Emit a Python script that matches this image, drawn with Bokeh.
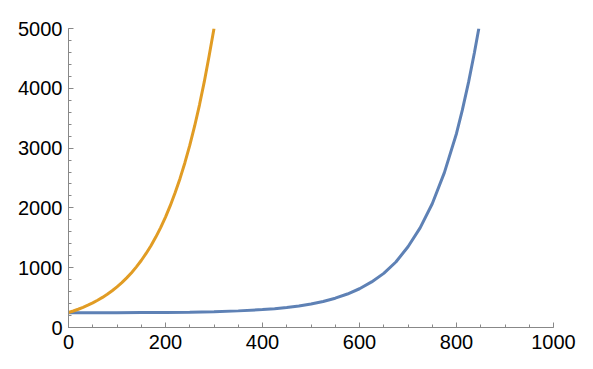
from bokeh.plotting import figure
from bokeh.embed import file_html
from bokeh.resources import INLINE
from bokeh.models import Range1d, FixedTicker

orange_x = [0, 10, 20, 30, 40, 50, 60, 70, 80, 90, 100, 110, 120, 130, 140, 150, 160, 170, 180, 190,
            200, 210, 220, 230, 240, 250, 260, 270, 280, 290, 300]
orange_y = [250, 276, 305, 337, 373, 412, 456, 503, 556, 615, 680, 751, 830, 917, 1014, 1120,
            1238, 1368, 1512, 1671, 1847, 2041, 2256, 2493, 2756, 3045, 3366, 3720, 4111, 4543, 5000]

blue_x = [0, 50, 100, 150, 200, 250, 300, 350, 400, 425, 450, 475, 500, 525, 550, 575, 600, 625,
          650, 675, 700, 725, 750, 775, 800, 812, 825, 837, 846]
blue_y = [245, 246, 248, 250, 252, 257, 265, 278, 300, 315, 335, 360, 393, 436, 490, 560, 648,
          762, 905, 1095, 1350, 1665, 2070, 2590, 3245, 3635, 4107, 4598, 5000]

x_ticks = [0, 200, 400, 600, 800, 1000]
y_ticks = [0, 1000, 2000, 3000, 4000, 5000]

BLUE = "#5E81B5"
ORANGE = "#E19C24"

p = figure(width=585, height=361, output_backend="svg", toolbar_location=None,
           x_range=Range1d(0, 1000), y_range=Range1d(0, 5000),
           min_border_left=68, min_border_top=28, min_border_right=32, min_border_bottom=34)

p.line(blue_x, blue_y, line_color=BLUE, line_width=3)
p.line(orange_x, orange_y, line_color=ORANGE, line_width=3)

p.xgrid.visible = False
p.ygrid.visible = False
p.outline_line_color = None

for ax in (p.xaxis[0], p.yaxis[0]):
    ax.axis_line_color = "#888888"
    ax.axis_line_width = 1
    ax.major_tick_line_color = "#888888"
    ax.minor_tick_line_color = "#888888"
    ax.major_tick_in = 5
    ax.major_tick_out = 0
    ax.minor_tick_in = 3
    ax.minor_tick_out = 0
    ax.major_label_text_font = "Liberation Sans"
    ax.major_label_text_font_size = "20px"
    ax.major_label_text_color = "black"

p.xaxis[0].ticker = FixedTicker(ticks=x_ticks, minor_ticks=list(range(0, 1001, 50)))
p.yaxis[0].ticker = FixedTicker(ticks=y_ticks, minor_ticks=list(range(0, 5001, 200)))
p.xaxis[0].major_label_standoff = 7
p.yaxis[0].major_label_standoff = 6

open("out.html", "w").write(file_html(p, INLINE))
